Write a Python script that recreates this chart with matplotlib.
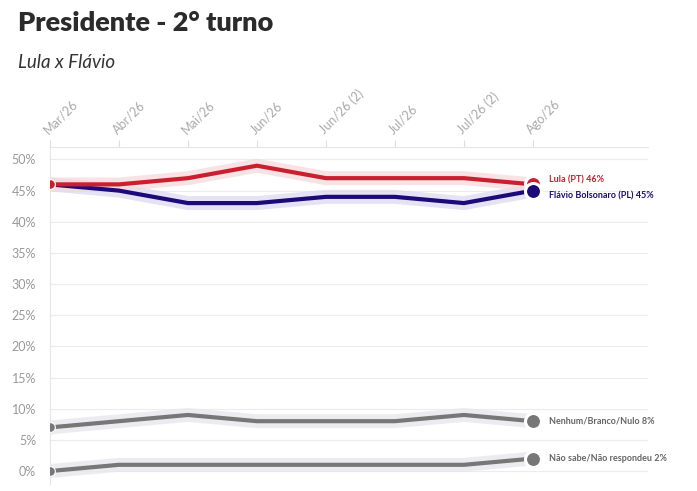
import matplotlib
matplotlib.use("Agg")
import matplotlib.pyplot as plt
import numpy as np

plt.rcParams['font.family'] = ['Lato', 'DejaVu Sans']

dates = ["Mar/26", "Abr/26", "Mai/26", "Jun/26", "Jun/26 (2)", "Jul/26", "Jul/26 (2)", "Ago/26"]
lula = [46, 46, 47, 49, 47, 47, 47, 46]
flavio = [46, 45, 43, 43, 44, 44, 43, 45]
nenhum = [7, 8, 9, 8, 8, 8, 9, 8]
naosabe = [0, 1, 1, 1, 1, 1, 1, 2]
yticks = [0, 5, 10, 15, 20, 25, 30, 35, 40, 45, 50]

series = [
    ("Não sabe/Não respondeu", naosabe, "#777777", "#e6e6ec", 0),
    ("Nenhum/Branco/Nulo", nenhum, "#777777", "#e6e6ec", 0),
    ("Flávio Bolsonaro (PL)", flavio, "#1b0a78", "#dcd9f0", 4),
    ("Lula (PT)", lula, "#c8202f", "#f6d9dc", -3.5),
]

W, H = 697, 491
fig = plt.figure(figsize=(W / 100, H / 100), dpi=100)
ax = fig.add_axes([50 / W, 1 - 483.5 / H, (648 - 50) / W, (483.5 - 147) / H])

x = np.arange(len(dates))
for name, vals, col, halo, dy in series:
    ax.plot(x, vals, color=halo, lw=10, alpha=0.75, solid_capstyle="round", solid_joinstyle="round", zorder=2)
for i, (name, vals, col, halo, dy) in enumerate(series):
    ax.plot(x, vals, color=col, lw=3, solid_joinstyle="miter", zorder=3)
    ax.plot(x[0], vals[0], "o", color=col, ms=7, mec="white", mew=0.8, zorder=4 + 0.1 * i)
    ax.plot(x[-1], vals[-1], "o", color=col, ms=11.5, mec="white", mew=2.2, zorder=6 - 0.1 * i)
    ax.annotate(f"{name} {vals[-1]}%", (x[-1], vals[-1]), xytext=(12, -dy),
                textcoords="offset points", va="center", ha="left",
                fontsize=6.5, fontweight="bold", color=col if col != "#777777" else "#666666")

ax.set_xlim(0, 8.67)
ax.set_ylim(-2, 52)
ax.set_yticks(yticks)
ax.set_yticklabels([f"{v}%" for v in yticks], color="#999999", fontsize=9)
ax.yaxis.grid(True, color="#ececec", lw=0.8)
ax.set_axisbelow(True)
ax.tick_params(axis="y", length=0, pad=10)

ax.set_xticks(x)
ax.set_xticklabels(dates, rotation=45, ha="left", va="bottom", rotation_mode="anchor",
                   color="#aaaaaa", fontsize=9)
ax.xaxis.tick_top()
ax.tick_params(axis="x", length=5, color="#dddddd", pad=3)

for s in ["right", "bottom"]:
    ax.spines[s].set_visible(False)
ax.spines["top"].set_color("#e6e6e6")
ax.spines["left"].set_color("#e6e6e6")

fig.text(18 / W, 1 - 23 / H, "Presidente - 2° turno", fontsize=19.5, fontweight="heavy",
         color="#2b2b2b", va="center", ha="left")
fig.text(18 / W, 1 - 63 / H, "Lula x Flávio", fontsize=13.5, style="italic",
         color="#333333", va="center", ha="left")

fig.savefig("out.png", dpi=100, facecolor="white")
